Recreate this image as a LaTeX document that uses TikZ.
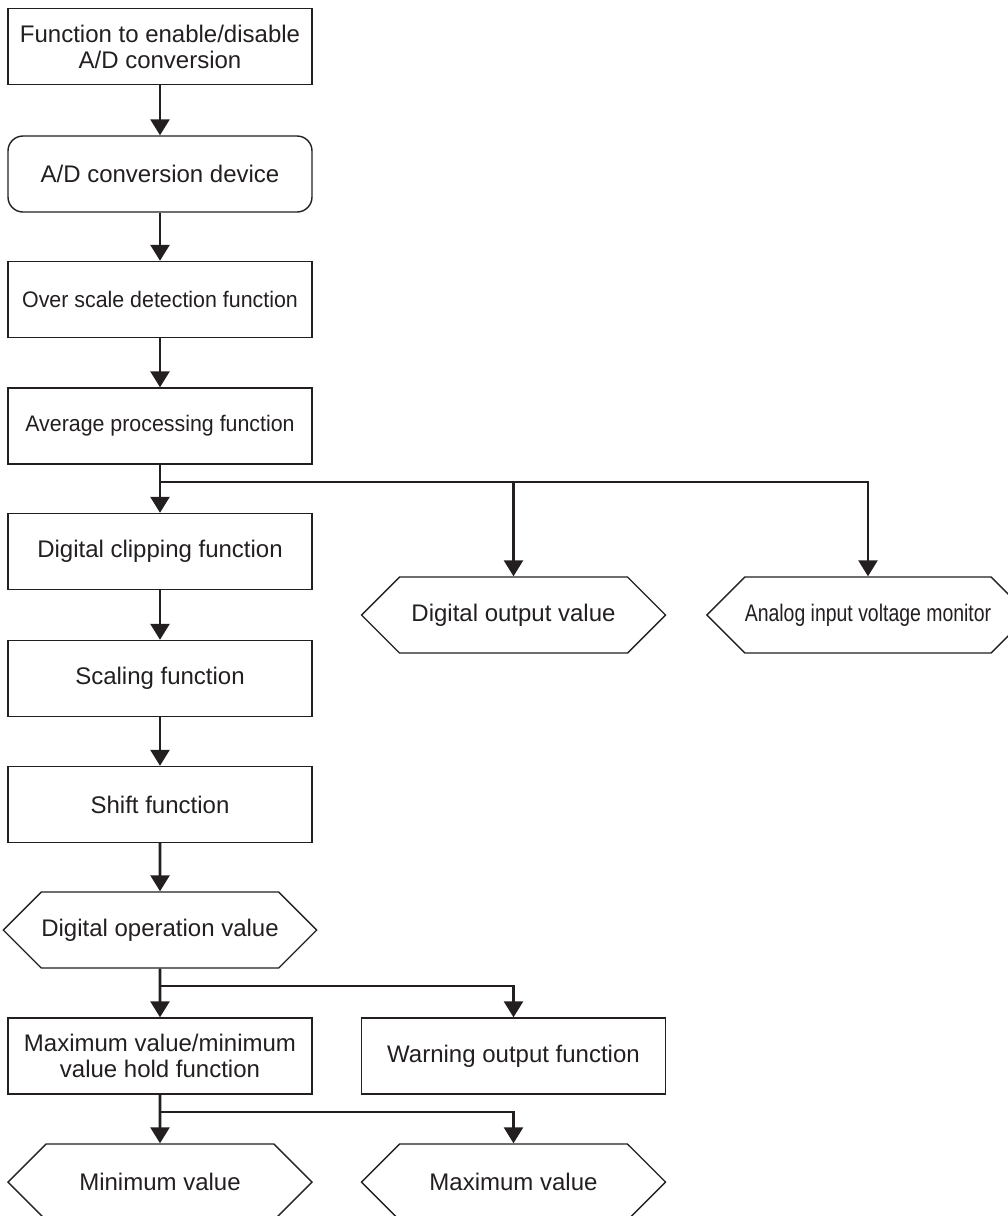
\documentclass[tikz,border=0pt]{standalone}
\usepackage{fontspec}
\setmainfont{Liberation Sans}
\newfontfamily\narrowsans[FakeStretch=0.95]{Liberation Sans}
\newfontfamily\condsans[FakeStretch=0.81]{Liberation Sans}
\usetikzlibrary{arrows.meta, shapes.symbols}
\definecolor{inkgray}{RGB}{35,31,32}

\begin{document}
\begin{tikzpicture}[x=1pt, y=-1pt, >={Triangle[width=19pt, length=16pt]},
    every node/.style={text=inkgray, font=\fontsize{24}{26}\selectfont, align=center},
    procbox/.style={draw=inkgray, line width=1.4pt, rectangle, minimum width=304pt, minimum height=76pt, inner sep=0pt},
    devbox/.style={procbox, rounded corners=15pt},
    valuehex/.style={draw=inkgray, line width=1.4pt, signal, signal to=west and east, signal pointer angle=90, minimum width=304pt, minimum height=76pt, inner sep=0pt},
    narrowtext/.style={font=\fontsize{22.5}{26}\narrowsans},
    condtext/.style={font=\fontsize{24}{26}\condsans},
    flow/.style={draw=inkgray, line width=2.6pt, ->}]
    \useasboundingbox (0,0) rectangle (1008,1216);
    \clip (0,0) rectangle (1008,1216);

    \node[procbox] (enable) at (160,46.5) {Function to enable/disable\\A/D conversion};
    \node[devbox] (device) at (160,174) {A/D conversion device};
    \node[procbox, narrowtext] (over) at (160,299.5) {Over scale detection function};
    \node[procbox, narrowtext] (avg) at (160,426) {Average processing function};
    \node[procbox] (clip) at (160,551.5) {Digital clipping function};
    \node[procbox] (scale) at (160,678.5) {Scaling function};
    \node[procbox] (shift) at (160,804.5) {Shift function};
    \node[valuehex] (opval) at (160,930) {Digital operation value};
    \node[procbox] (hold) at (160,1056) {Maximum value/minimum\\value hold function};
    \node[procbox] (warn) at (513.5,1056) {Warning output function};
    \node[valuehex] (minval) at (160,1182) {Minimum value};
    \node[valuehex] (maxval) at (513.5,1182) {Maximum value};
    \node[valuehex] (dout) at (513.5,615) {Digital output value};
    \node[valuehex, condtext] (amon) at (868,615) {Analog input voltage monitor};

    \coordinate (split1) at (160,482);
    \coordinate (split2) at (160,986);
    \coordinate (split3) at (160,1112);

    \draw[flow] (enable) -- (device);
    \draw[flow] (device) -- (over);
    \draw[flow] (over) -- (avg);
    \draw[flow] (avg) -- (clip);
    \draw[flow] (split1) -| (dout);
    \draw[flow] (split1) -| (amon);
    \draw[flow] (clip) -- (scale);
    \draw[flow] (scale) -- (shift);
    \draw[flow] (shift) -- (opval);
    \draw[flow] (opval) -- (hold);
    \draw[flow] (split2) -| (warn);
    \draw[flow] (hold) -- (minval);
    \draw[flow] (split3) -| (maxval);
\end{tikzpicture}
\end{document}
